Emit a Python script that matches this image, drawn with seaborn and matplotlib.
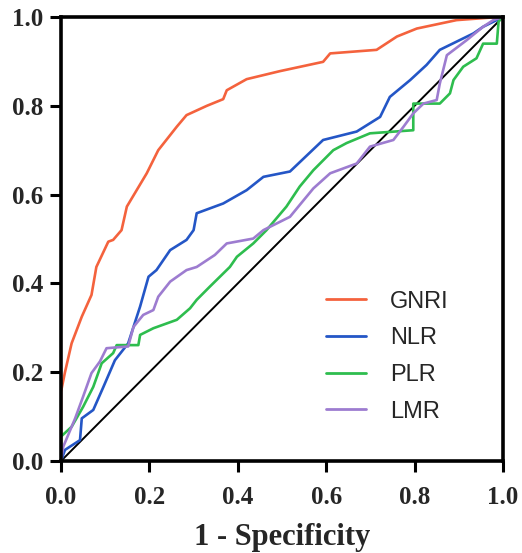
"""
ROC curves for GNRI, NLR, PLR and LMR.
Writes out.png
"""

import numpy as np
import pandas as pd
import matplotlib
matplotlib.use("Agg")
import matplotlib.pyplot as plt
import seaborn as sns

# --- data (1 - specificity, sensitivity) ---
gnri_fpr = [0, 0, 0.009, 0.024, 0.047, 0.069, 0.08, 0.107, 0.118, 0.137, 0.149, 0.194, 0.22, 0.262,
            0.284, 0.33, 0.367, 0.375, 0.42, 0.495, 0.593, 0.609, 0.714, 0.76, 0.805, 0.895, 0.99, 1.0]
gnri_tpr = [0, 0.156, 0.20, 0.265, 0.325, 0.374, 0.437, 0.494, 0.498, 0.52, 0.573, 0.648, 0.70, 0.753,
            0.779, 0.80, 0.815, 0.835, 0.86, 0.878, 0.899, 0.918, 0.926, 0.956, 0.974, 0.993, 1.0, 1.0]

nlr_fpr = [0, 0.009, 0.043, 0.047, 0.073, 0.096, 0.122, 0.152, 0.164, 0.179, 0.198, 0.216, 0.247, 0.284,
           0.30, 0.307, 0.367, 0.42, 0.458, 0.518, 0.593, 0.669, 0.722, 0.744, 0.79, 0.827, 0.857, 0.933,
           0.955, 1.0]
nlr_tpr = [0, 0.025, 0.047, 0.096, 0.115, 0.167, 0.227, 0.265, 0.302, 0.348, 0.415, 0.43, 0.475, 0.498,
           0.52, 0.558, 0.58, 0.61, 0.64, 0.652, 0.723, 0.742, 0.775, 0.82, 0.858, 0.892, 0.926, 0.963,
           0.978, 1.0]

plr_fpr = [0, 0, 0.024, 0.05, 0.073, 0.092, 0.118, 0.126, 0.175, 0.179, 0.209, 0.262, 0.292, 0.307,
           0.337, 0.382, 0.398, 0.435, 0.465, 0.51, 0.54, 0.571, 0.616, 0.646, 0.699, 0.797, 0.797,
           0.857, 0.88, 0.888, 0.91, 0.94, 0.955, 0.986, 0.99, 1.0]
plr_tpr = [0, 0.055, 0.077, 0.122, 0.167, 0.22, 0.243, 0.261, 0.261, 0.284, 0.299, 0.318, 0.344, 0.363,
           0.393, 0.437, 0.46, 0.49, 0.52, 0.573, 0.618, 0.655, 0.70, 0.716, 0.738, 0.745, 0.805,
           0.805, 0.828, 0.858, 0.888, 0.907, 0.94, 0.94, 0.99, 1.0]

lmr_fpr = [0, 0.005, 0.032, 0.05, 0.069, 0.088, 0.103, 0.152, 0.164, 0.186, 0.209, 0.22, 0.247, 0.284,
           0.307, 0.348, 0.375, 0.435, 0.458, 0.518, 0.571, 0.609, 0.669, 0.699, 0.752, 0.775, 0.797,
           0.82, 0.85, 0.857, 0.873, 0.918, 0.955, 0.978, 1.0]
lmr_tpr = [0, 0.032, 0.096, 0.145, 0.198, 0.224, 0.254, 0.258, 0.302, 0.329, 0.34, 0.37, 0.404, 0.43,
           0.437, 0.464, 0.49, 0.501, 0.52, 0.55, 0.614, 0.648, 0.67, 0.708, 0.723, 0.753, 0.783,
           0.805, 0.813, 0.85, 0.914, 0.948, 0.978, 0.993, 1.0]

markers = ["GNRI", "NLR", "PLR", "LMR"]
colors = ["#F4623D", "#2456C6", "#2EBD4E", "#9D7CD0"]
ticks = [0.0, 0.2, 0.4, 0.6, 0.8, 1.0]
tick_labels = ["0.0", "0.2", "0.4", "0.6", "0.8", "1.0"]
x_label = "1 - Specificity"


def build_frame():
    curves = {
        "GNRI": (gnri_fpr, gnri_tpr),
        "NLR": (nlr_fpr, nlr_tpr),
        "PLR": (plr_fpr, plr_tpr),
        "LMR": (lmr_fpr, lmr_tpr),
    }
    rows = []
    for name in markers:
        fpr, tpr = curves[name]
        for i, (a, b) in enumerate(zip(fpr, tpr)):
            rows.append({"marker": name, "order": i, "fpr": a, "tpr": b})
    return pd.DataFrame(rows)


def plot_roc(out_path):
    sns.set_style("white")
    df = build_frame()

    fig = plt.figure(figsize=(5.22, 5.53), dpi=100)
    ax = fig.add_axes([61 / 522, 92 / 553, 442 / 522, 444 / 553])

    # reference line
    ax.plot([0, 1], [0, 1], color="black", lw=1.4, zorder=1)

    sns.lineplot(
        data=df, x="fpr", y="tpr", hue="marker", hue_order=markers,
        palette=dict(zip(markers, colors)), sort=False, estimator=None,
        units="marker", lw=1.9, ax=ax, zorder=2,
    )

    ax.set_xlim(0, 1)
    ax.set_ylim(0, 1)
    ax.set_xticks(ticks)
    ax.set_yticks(ticks)
    ax.set_xticklabels(tick_labels)
    ax.set_yticklabels(tick_labels)
    for lab in ax.get_xticklabels() + ax.get_yticklabels():
        lab.set_fontfamily("Liberation Serif")
        lab.set_fontweight("bold")
        lab.set_fontsize(18)
    ax.tick_params(axis="both", direction="out", length=8, width=2.2, color="black",
                   bottom=True, left=True)
    ax.tick_params(axis="x", pad=10)
    ax.tick_params(axis="y", pad=5)
    for sp in ax.spines.values():
        sp.set_linewidth(2.6)
        sp.set_color("black")

    ax.set_xlabel(x_label, fontfamily="Liberation Serif", fontweight="bold",
                  fontsize=22, labelpad=10)
    ax.set_ylabel("")

    handles, labels = ax.get_legend_handles_labels()
    leg = ax.legend(
        handles, labels, loc="center left", bbox_to_anchor=(0.60, 0.235),
        frameon=False, handlelength=1.7, handletextpad=1.0, labelspacing=0.62,
        borderaxespad=0, borderpad=0,
        prop={"family": "Liberation Sans", "size": 17},
    )
    for line in leg.get_lines():
        line.set_linewidth(2.0)

    fig.savefig(out_path, dpi=100, facecolor="white")
    print(f"saved -> {out_path}")


if __name__ == "__main__":
    plot_roc("out.png")
